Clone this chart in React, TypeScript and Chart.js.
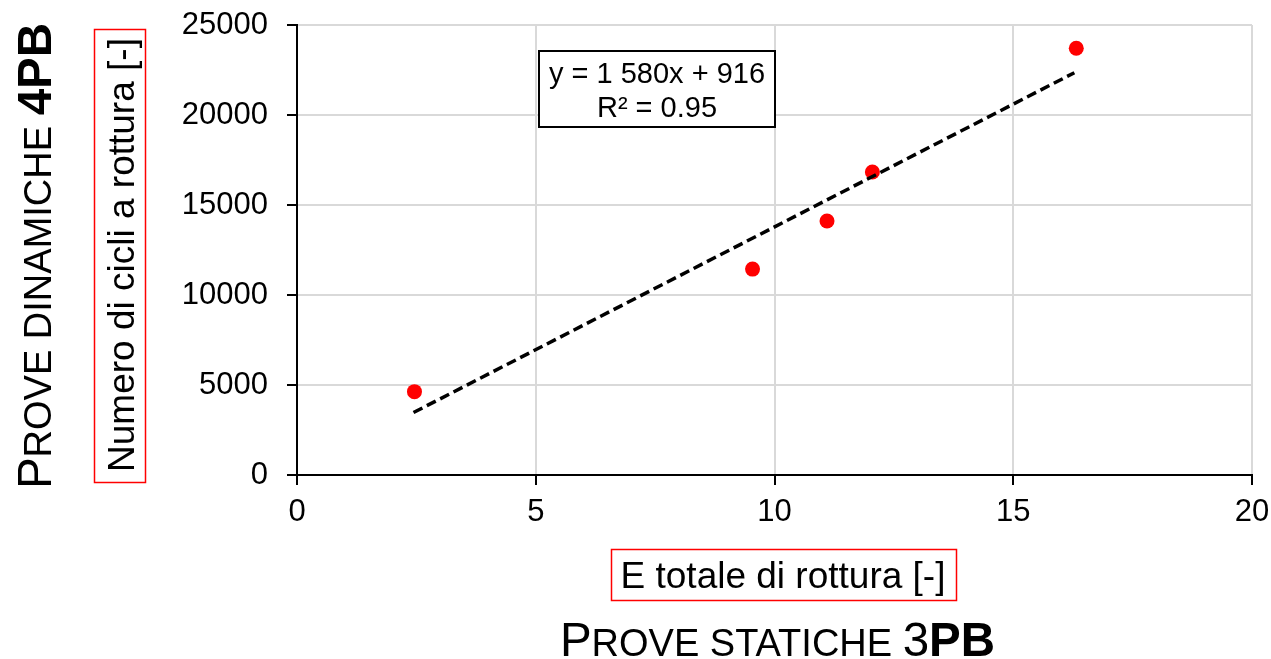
import React, { useEffect, useRef } from "react";
import { Chart, registerables } from "chart.js";

Chart.register(...registerables);

// ---- data ----
const xValues = [2.46, 9.54, 11.1, 12.05, 16.32];
const yValues = [4630, 11440, 14110, 16830, 23710];
const trendX = [2.44, 16.28];
const trendY = [3470, 22350];
const xTickValues = [0, 5, 10, 15, 20];
const yTickValues = [0, 5000, 10000, 15000, 20000, 25000];
const equationLines = ["y = 1 580x + 916", "R² = 0.95"];
const xAxisTitle = "E totale di rottura [-]";
const yAxisTitle = "Numero di cicli a rottura [-]";
// runs: [text, kind] kind: "cap" full-size regular, "sc" small caps, "bold" full-size bold
const xGroupTitle: [string, string][] = [["P", "cap"], ["ROVE STATICHE ", "sc"], ["3", "cap"], ["PB", "bold"]];
const yGroupTitle: [string, string][] = [["P", "cap"], ["ROVE DINAMICHE ", "sc"], ["4PB", "bold"]];

const FONT = "'Liberation Sans', Arial, sans-serif";

function runFont(kind: string, size: number) {
  if (kind === "sc") return `normal ${(size * 0.8).toFixed(1)}px ${FONT}`;
  if (kind === "bold") return `bold ${size}px ${FONT}`;
  return `normal ${size}px ${FONT}`;
}

function drawRuns(ctx: CanvasRenderingContext2D, runs: [string, string][], size: number) {
  let total = 0;
  const widths: number[] = [];
  for (const [t, k] of runs) {
    ctx.font = runFont(k, size);
    const w = ctx.measureText(t).width;
    widths.push(w);
    total += w;
  }
  let x = -total / 2;
  ctx.textAlign = "left";
  ctx.textBaseline = "alphabetic";
  runs.forEach(([t, k], i) => {
    ctx.font = runFont(k, size);
    ctx.fillText(t, x, 0);
    x += widths[i];
  });
}

const decorPlugin = {
  id: "decor",
  afterDraw(chart: any) {
    const ctx: CanvasRenderingContext2D = chart.ctx;
    ctx.save();

    // equation box
    ctx.fillStyle = "#fff";
    ctx.fillRect(539, 51, 236, 76);
    ctx.strokeStyle = "#000";
    ctx.lineWidth = 2;
    ctx.strokeRect(539, 51, 236, 76);
    ctx.fillStyle = "#000";
    ctx.font = `29px ${FONT}`;
    ctx.textAlign = "center";
    ctx.textBaseline = "alphabetic";
    ctx.fillText(equationLines[0], 657, 83);
    ctx.fillText(equationLines[1], 657, 117);

    // x axis title with red box
    ctx.font = `37px ${FONT}`;
    ctx.fillText(xAxisTitle, 783, 588);
    ctx.strokeStyle = "#ff0000";
    ctx.lineWidth = 1.5;
    ctx.strokeRect(611.5, 549.5, 345, 51);

    // y axis title with red box (rotated)
    ctx.save();
    ctx.translate(134, 255);
    ctx.rotate(-Math.PI / 2);
    ctx.font = `37px ${FONT}`;
    ctx.textAlign = "center";
    ctx.fillText(yAxisTitle, 0, 0);
    ctx.restore();
    ctx.strokeRect(94.5, 29.5, 51, 453);

    // group titles
    ctx.save();
    ctx.translate(777.5, 656);
    drawRuns(ctx, xGroupTitle, 47.5);
    ctx.restore();

    ctx.save();
    ctx.translate(51, 256);
    ctx.rotate(-Math.PI / 2);
    drawRuns(ctx, yGroupTitle, 47.5);
    ctx.restore();

    ctx.restore();
  },
};

export default function App() {
  const ref = useRef<HTMLCanvasElement>(null);
  useEffect(() => {
    document.body.style.margin = "0";
    const canvas = ref.current!;
    const chart = new Chart(canvas, {
      type: "scatter",
      data: {
        datasets: [
          {
            type: "line",
            data: trendX.map((x, i) => ({ x, y: trendY[i] })),
            borderColor: "#000",
            borderWidth: 3.5,
            borderDash: [10, 5],
            pointRadius: 0,
            fill: false,
            showLine: true,
          } as any,
          {
            data: xValues.map((x, i) => ({ x, y: yValues[i] })),
            backgroundColor: "#ff0000",
            borderColor: "#ff0000",
            borderWidth: 0,
            pointRadius: 7.5,
          },
        ],
      },
      options: {
        responsive: false,
        devicePixelRatio: 1,
        animation: false,
        layout: { padding: { left: 0, top: 25, right: 19, bottom: 0 } },
        plugins: { legend: { display: false }, tooltip: { enabled: false } },
        scales: {
          x: {
            type: "linear",
            min: 0,
            max: 20,
            afterFit: (s: any) => {
              s.height = 184;
              s.paddingLeft = 0;
              s.paddingRight = 0;
            },
            afterBuildTicks: (s: any) => { s.ticks = xTickValues.map((v) => ({ value: v })); },
            ticks: {
              color: "#000",
              font: { family: FONT, size: 31 },
              padding: 9,
              maxRotation: 0,
              callback: (v: any) => String(v),
            },
            grid: { color: "#d9d9d9", lineWidth: 2, tickColor: "#000", tickLength: 10, tickWidth: 2 },
            border: { color: "#000", width: 2 },
          },
          y: {
            type: "linear",
            min: 0,
            max: 25000,
            afterFit: (s: any) => {
              s.width = 297;
              s.paddingTop = 0;
              s.paddingBottom = 0;
            },
            afterBuildTicks: (s: any) => { s.ticks = yTickValues.map((v) => ({ value: v })); },
            ticks: {
              color: "#000",
              font: { family: FONT, size: 31 },
              padding: 19,
              callback: (v: any) => String(v),
            },
            grid: { color: "#d9d9d9", lineWidth: 2, tickColor: "#000", tickLength: 10, tickWidth: 2 },
            border: { color: "#000", width: 2 },
          },
        },
      },
      plugins: [decorPlugin],
    });
    return () => chart.destroy();
  }, []);
  return (
    <div style={{ position: "fixed", left: 0, top: 0, width: 1271, height: 659, background: "#fff" }}>
      <canvas ref={ref} width={1271} height={659} style={{ width: 1271, height: 659, display: "block" }} />
    </div>
  );
}
